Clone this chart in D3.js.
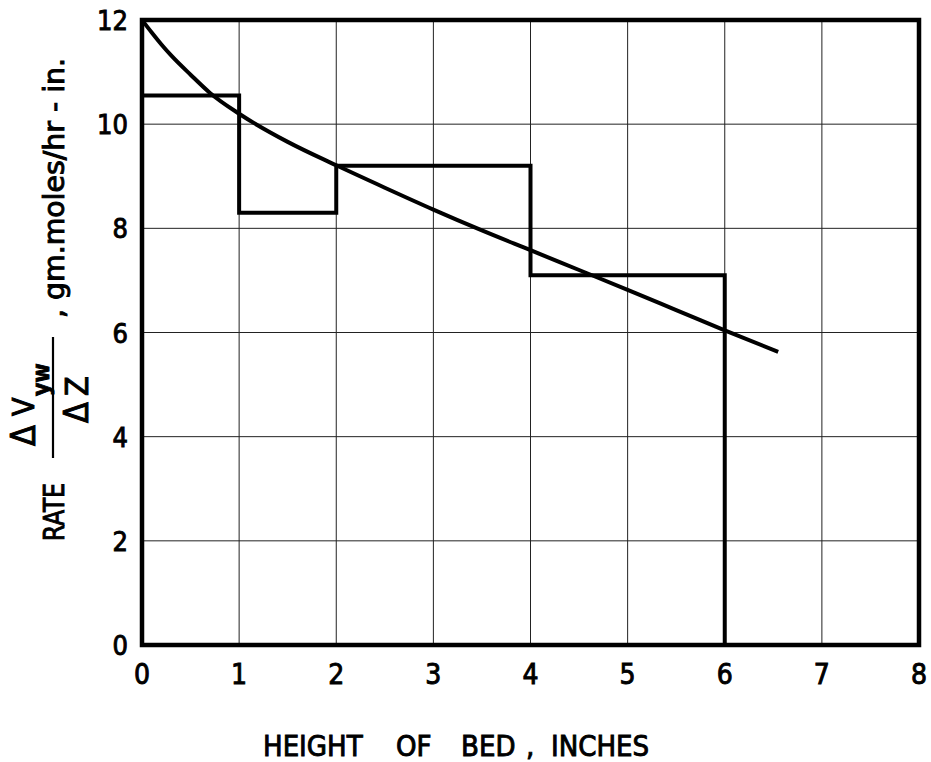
<!DOCTYPE html>
<html>
<head>
<meta charset="utf-8">
<script src="https://cdn.jsdelivr.net/npm/d3@7"></script>
<style>
  html, body { margin: 0; padding: 0; background: #fff; }
  svg text { font-family: "DejaVu Sans Condensed", "DejaVu Sans", sans-serif; fill: #000; stroke: #000; stroke-width: 0.9; }
</style>
</head>
<body>
<svg id="chart" width="931" height="762"></svg>
<script>
// Bed height (inches) and reaction rate data
const xTicks = [0, 1, 2, 3, 4, 5, 6, 7, 8];
const yTicks = [0, 2, 4, 6, 8, 10, 12];

// Stepwise (increment-averaged) rate: segment edges and rate over each segment
const stepEdges = [0, 1, 2, 4, 6];
const stepRates = [10.55, 8.3, 9.2, 7.1];

// Smooth rate curve through the bed
const curveHeight = [0, 0.1, 0.2, 0.3, 0.5, 0.7, 1, 1.5, 2, 2.5, 3, 3.5, 4, 4.5, 5, 5.5, 6, 6.55];
const curveRate   = [12.0, 11.76, 11.53, 11.32, 10.95, 10.6, 10.2, 9.66, 9.21, 8.78, 8.36, 7.96, 7.58, 7.2, 6.82, 6.43, 6.04, 5.63];

const svg = d3.select("#chart");

const x = d3.scaleLinear().domain([0, 8]).range([142, 919]);
const y = d3.scaleLinear().domain([0, 12]).range([645, 20]);

// Grid
const grid = svg.append("g").attr("stroke", "#222").attr("stroke-width", 1);
grid.selectAll("line.vx").data(xTicks.slice(1, -1)).join("line")
  .attr("x1", d => x(d)).attr("x2", d => x(d))
  .attr("y1", y(12)).attr("y2", y(0));
grid.selectAll("line.hy").data(yTicks.slice(1, -1)).join("line")
  .attr("x1", x(0)).attr("x2", x(8))
  .attr("y1", d => y(d)).attr("y2", d => y(d));

// Stepped rate line
const stepPts = stepEdges.map((e, i) => [e, i < stepRates.length ? stepRates[i] : 0]);
svg.append("path")
  .datum(stepPts)
  .attr("fill", "none")
  .attr("stroke", "#000")
  .attr("stroke-width", 4)
  .attr("stroke-linejoin", "miter")
  .attr("d", d3.line().x(d => x(d[0])).y(d => y(d[1])).curve(d3.curveStepAfter));

// Smooth rate curve
const curvePts = curveHeight.map((h, i) => [h, curveRate[i]]);
svg.append("path")
  .datum(curvePts)
  .attr("fill", "none")
  .attr("stroke", "#000")
  .attr("stroke-width", 4)
  .attr("d", d3.line().x(d => x(d[0])).y(d => y(d[1])).curve(d3.curveMonotoneX));

// Frame
svg.append("rect")
  .attr("x", x(0)).attr("y", y(12))
  .attr("width", x(8) - x(0)).attr("height", y(0) - y(12))
  .attr("fill", "none").attr("stroke", "#000").attr("stroke-width", 4.5);

// Tick labels
svg.append("g").selectAll("text").data(xTicks).join("text")
  .attr("x", d => x(d)).attr("y", 684)
  .attr("text-anchor", "middle")
  .attr("font-size", 28)
  .text(d => d);

svg.append("g").selectAll("text").data(yTicks).join("text")
  .attr("x", 128).attr("y", d => y(d) + 10)
  .attr("text-anchor", "end")
  .attr("font-size", 27)
  .text(d => d);

// X axis title
const xt = svg.append("text").attr("y", 756).attr("font-size", 29);
[["HEIGHT", 263], ["OF", 396], ["BED", 461], [",", 526], ["INCHES", 551]].forEach(([w, px]) => {
  xt.append("tspan").attr("x", px).text(w);
});

// Y axis title (rotated)
const yl = svg.append("g").attr("transform", "rotate(-90)");
yl.append("text").attr("x", -541).attr("y", 64).attr("font-size", 28)
  .attr("textLength", 58).attr("lengthAdjust", "spacingAndGlyphs").text("RATE");
// fraction: ΔV_yw / ΔZ
yl.append("text").attr("x", -446).attr("y", 35).attr("font-size", 34).text("Δ");
yl.append("text").attr("x", -416).attr("y", 34).attr("font-size", 30).text("V");
yl.append("text").attr("x", -396).attr("y", 49).attr("font-size", 23).attr("font-weight", "bold").text("yw");
yl.append("line").attr("x1", -458).attr("x2", -337).attr("y1", 53).attr("y2", 53)
  .attr("stroke", "#000").attr("stroke-width", 2.2);
yl.append("text").attr("x", -423).attr("y", 88).attr("font-size", 34).text("Δ");
yl.append("text").attr("x", -396).attr("y", 88).attr("font-size", 32).text("Z");
yl.append("text").attr("x", -318).attr("y", 64).attr("font-size", 28)
  .attr("textLength", 260).attr("lengthAdjust", "spacingAndGlyphs")
  .text(", gm.moles/hr - in.");
</script>
</body>
</html>
